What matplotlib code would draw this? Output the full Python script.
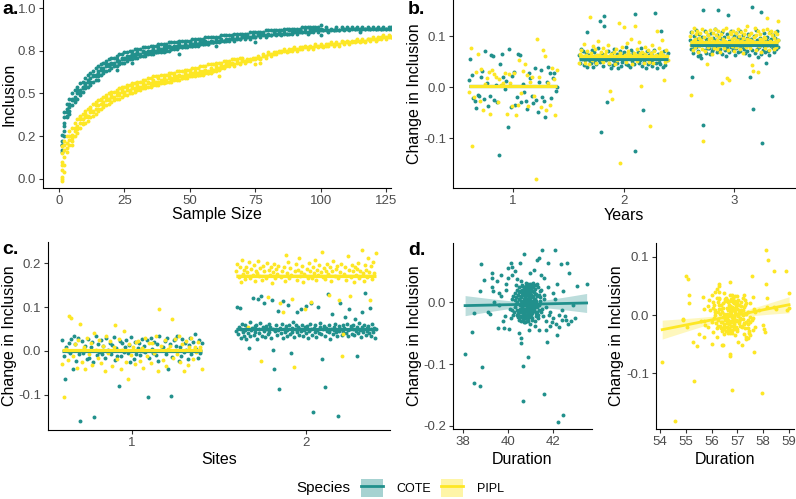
import numpy as np
import matplotlib.pyplot as plt
from matplotlib.lines import Line2D
from matplotlib.patches import Patch

plt.rcParams['font.family'] = ['Liberation Sans', 'DejaVu Sans']

COTE = '#21908C'
PIPL = '#FDE725'

# ---------------- a. Inclusion vs sample size (hundredths) ----------------
cote_a_1 = [22, 36, 41, 44, 46, 48, 50, 52, 54, 56, 57, 59, 60, 61, 63, 64, 65, 66, 67, 67,
            68, 69, 69, 70, 71, 71, 72, 72, 73, 73, 73, 74, 74, 74, 75, 75, 75, 76, 76, 76,
            77, 77, 77, 77, 78, 78, 78, 78, 78, 79, 79, 79, 79, 79, 80, 80, 80, 80, 80, 81,
            81, 81, 81, 81, 82, 82, 82, 82, 82, 83, 83, 83, 83, 83, 83, 84, 84, 84, 84, 84,
            84, 85, 85, 85, 85, 85, 85, 85, 86, 86, 86, 86, 86, 86, 86, 86, 87, 87, 87, 87,
            87, 87, 87, 87, 87, 87, 87, 88, 88, 88, 88, 88, 88, 88, 88, 88, 88, 88, 88, 88,
            88, 88, 88, 88, 88, 88, 88]
cote_a_2 = [17, 31, 39, 42, 47, 46, 52, 50, 53, 55, 58, 57, 61, 60, 62, 65, 64, 67, 66, 68,
            67, 70, 68, 71, 70, 72, 71, 73, 72, 74, 72, 75, 73, 75, 74, 76, 74, 77, 75, 77,
            76, 78, 76, 78, 77, 79, 77, 79, 78, 80, 78, 80, 79, 80, 79, 81, 79, 81, 80, 82,
            80, 82, 81, 82, 81, 83, 81, 83, 82, 84, 82, 84, 82, 84, 83, 85, 83, 85, 83, 85,
            84, 86, 84, 86, 84, 86, 85, 87, 85, 87, 85, 87, 86, 88, 85, 88, 86, 88, 86, 88,
            87, 89, 86, 88, 87, 89, 87, 89, 87, 89, 87, 89, 88, 89, 87, 89, 88, 89, 88, 89,
            88, 89, 88, 89, 88, 89, 89]
cote_a_3 = [20, 33, 37, 40, 43, 45, 47, 49, 51, 53, 54, 56, 57, 58, 60, 61, 62, 63, 64, 65,
            66, 66, 67, 68, 68, 69, 70, 70, 71, 71, 72, 72, 72, 73, 73, 73, 74, 74, 74, 75,
            75, 75, 76, 76, 76, 77, 77, 77, 77, 78, 78, 78, 78, 79, 79, 79, 79, 80, 80, 80]
cote_a_4 = [26, 39, 44, 47, 50, 52, 54, 56, 57, 59, 61, 62, 63, 65, 66, 67, 68, 69, 70, 71,
            71, 72, 73, 73, 74, 74, 75, 75, 76, 76, 76, 77, 77, 77, 78, 78, 78, 79, 79, 79,
            79, 80, 80, 80, 80, 81, 81, 81, 81, 81, 82, 82, 82, 82, 82, 83, 83, 83, 83, 83,
            83, 84, 84, 84, 84, 84, 85, 85, 85, 85, 85, 85, 86, 86, 86, 86, 86, 86, 87, 87,
            87, 87, 87, 87, 87, 88, 88, 88, 88, 88, 88, 88, 89, 89, 89, 89, 89, 89, 89, 90]
cote_a_extra_n = [1, 1, 2, 2, 3, 4, 12, 15, 22, 28, 40, 46, 60, 75, 100, 115]
cote_a_extra_y = [16, 20, 25, 28, 36, 38, 55, 58, 64, 68, 74, 73, 78, 80, 84, 86]

pipl_a_1 = [15, 17, 21, 23, 26, 28, 31, 33, 35, 36, 37, 39, 40, 41, 43, 44, 45, 46, 47, 48,
            48, 49, 50, 51, 51, 52, 52, 53, 53, 54, 54, 55, 55, 56, 56, 57, 57, 57, 58, 58,
            58, 59, 59, 59, 60, 60, 60, 61, 61, 61, 62, 62, 62, 62, 63, 63, 63, 64, 64, 65,
            65, 65, 66, 66, 67, 67, 67, 68, 68, 69, 69, 69, 70, 70, 71, 71, 71, 72, 72, 73,
            73, 73, 74, 74, 75, 75, 75, 75, 76, 76, 76, 76, 77, 77, 77, 77, 77, 78, 78, 78,
            78, 78, 79, 79, 79, 79, 79, 80, 80, 80, 80, 80, 81, 81, 81, 81, 81, 82, 82, 82,
            82, 82, 83, 83, 83, 83, 83]
pipl_a_2 = [10, 20, 18, 25, 24, 30, 29, 35, 33, 38, 36, 41, 39, 43, 41, 46, 44, 48, 46, 49,
            47, 51, 49, 52, 50, 54, 51, 55, 52, 55, 53, 56, 54, 57, 55, 58, 56, 59, 57, 59,
            57, 60, 58, 61, 59, 61, 59, 62, 60, 62, 61, 63, 61, 63, 62, 64, 62, 65, 63, 66,
            64, 66, 65, 67, 66, 68, 66, 69, 67, 70, 68, 70, 69, 71, 70, 72, 70, 73, 71, 74,
            72, 74, 73, 75, 74, 76, 74, 76, 75, 77, 75, 77, 76, 78, 76, 78, 76, 79, 77, 79,
            77, 79, 78, 80, 78, 80, 78, 81, 79, 81, 79, 81, 80, 82, 80, 82, 80, 82, 81, 83,
            81, 83, 82, 84, 82, 84, 83]
pipl_a_3 = [5, 13, 16, 20, 22, 25, 27, 30, 32, 33, 34, 36, 37, 38, 40, 41, 42, 43, 44, 45,
            46, 47, 47, 48, 49, 49, 50, 50, 51, 52, 52, 53, 53, 54, 54, 55, 55, 55, 56, 56,
            57, 57, 57, 58, 58, 58, 59, 59, 59, 60, 60, 60, 61, 61, 61, 62, 62, 62, 63, 63]
pipl_a_4 = [19, 22, 25, 28, 30, 33, 35, 37, 38, 40, 41, 42, 44, 45, 46, 47, 48, 49, 50, 51,
            51, 52, 53, 54, 54, 55, 55, 56, 56, 57, 57, 58, 58, 59, 59, 60, 60, 60, 61, 61,
            61, 62, 62, 62, 63, 63, 63, 64, 64, 64, 65, 65, 65, 66, 66, 66, 67, 67, 67, 68,
            68, 68, 69, 69, 69, 70, 70, 70, 71, 71]
pipl_a_extra_n = [1, 1, 1, 1, 2, 2, 5, 8, 10, 61, 75, 77]
pipl_a_extra_y = [0, 1, 8, -1, 8, 4, 20, 36, 38, 60, 67, 68]

# ---------------- b. Change in inclusion by years (thousandths) ----------------
cote_y1 = [13, 54, 24, -22, -27, -41, -15, -18, 20, 32, -23, 71, 8, -37, -17, 63, 60, -25, 3, -30,
           -133, 45, 64, 20, -4, 12, -79, 74, -40, 22, 30, -35, -20, 65, 62, -29, 5, -10, -27, -43,
           28, 17, -18, -32, 38, -25, -49, 10, 33, -20, -28, -58, 9, 40, 28, -22, 18, 27, -7, 0]
pipl_y1 = [-10, 76, -115, -20, 30, 65, -28, 35, -45, 5, 18, 30, -52, 33, 25, 20, -30, 15, 3, 8,
           28, -53, 25, 8, -38, 27, -55, -35, 52, -12, 32, 45, 23, -37, 10, 20, -18, -180, 94, 20,
           -40, 73, 60, -45, 8, -35, 38, 15, -55, 33]
cote_y2 = [62, 48, 75, 55, 58, 70, 44, 52, 66, 40, 108, 55, 63, 51, 47, 72, 57, 39, 68, 50,
           45, 60, 56, 77, 53, 130, 49, -89, 64, 42, 120, 140, 58, 53, -29, 71, 46, 55, 61, 38,
           67, 52, 43, 74, 49, 59, 48, 65, 37, 56, 70, 41, 62, 50, 54, 68, 54, 46, 79, 60,
           44, 57, 63, 39, 72, 51, 66, 45, 144, -126, 58, 55, 69, 47, 60, 53, 76, 42, -45, 64,
           49, 55, 38, 71, 58, 45, 62, 50, 67, 52, 41, 60, 73, 146, 48, 56, 37, 65, 50, 59,
           46, 110, 63, 40, 70, 54, 44, 61, 52, 66]
pipl_y2 = [48, 65, 72, 60, 55, 85, 48, 62, 55, 70, 58, 45, 138, 66, 52, 80, 58, 60, 74, 47,
           63, 90, 62, 57, 69, 53, 77, 50, 61, 64, 71, 55, 82, 48, -7, 64, 59, -24, 58, 68,
           46, 75, 53, 60, 125, -149, 66, 61, 79, 56, 118, 62, 49, 86, 67, 70, 54, 63, 95, 45,
           58, 67, 120, 63, 74, 51, 61, 88, 66, 2, 69, 57, 48, 78, 64, 60, 55, 72, 50, -76,
           66, 83, 47, 59, 70, 58, 62, 110, 54, 76, 65, 68, 92, 56, 63, 13, 49, 73, 60, 52]
cote_y3 = [92, 75, 108, 19, 85, 66, 100, 78, 88, 112, 79, 95, 60, 71, 104, 83, 62, 90, 57, 98,
           151, -75, 86, 73, 110, 67, 94, 80, 77, 102, 76, 89, 64, 106, 82, 70, 97, 75, 85, 113,
           78, 93, 68, 101, 151, 84, 80, 96, 74, 88, 107, 65, 91, 80, 99, 72, 87, 61, 103, 77,
           141, 90, 69, 84, 110, 78, 95, 81, 73, 100, 86, 63, 105, 76, 92, 68, 98, 83, 71, 109,
           79, 94, 80, 88, 102, 74, 91, 66, 85, 97, 70, 87, 104, 62, 19, 82, 95, 72, 156, -43,
           89, 100, 67, 84, 111, 75, 93, 59, 86, 78, 96, 64, 147, -110, 88, 73, 105, 81, 69, 92,
           47, 83, 99, 71, 90, 63, 107, 80, 94, -18, 76, 101, 85, 68, 97, 74, 88, 110, 79, 93]
pipl_y3 = [100, 83, -16, 107, 90, 73, 115, 95, 79, 103, 87, 110, 68, 96, 81, 105, 92, 75, 113, -105,
           85, 99, 71, 108, 89, 45, 102, 78, 94, 111, 82, 97, 65, 106, 91, 76, 114, 88, 101, 74,
           93, 109, 80, 98, 69, 104, 86, 7, 95, 112, 77, 90, 116, 84, 18, 99, 72, 13, 107, 87,
           103, 81, 94, 110, 70, 96, 89, 105, 78, 92, 113, 85, 100, 74, 108, 91, 82, 97, 67, 104,
           88, 111, 79, 95, 120, 83, 102, 76, 93, 106, 43, 90, 32, 98, 84, 115, 72, 101, 87, 30,
           109, 80, 94, 103, 69, 92, 112, 85, 99, 77, 96, 88, 114, 136, 82, 105, 73, 91, 110, 83,
           101, 86, 97, 75, 108, 90, 79, 104, 93, 130]

# ---------------- c. Change in inclusion by sites (thousandths) ----------------
cote_s1 = [25, -12, -65, 10, 0, 18, -5, 28, -40, 33, 15, -22, 30, -8, -160, 22, -5, 5, 12, -18,
           27, -15, 8, 20, -25, -150, 33, -10, 16, -3, 24, -8, 11, -15, 29, 0, 2, 19, -7, 14,
           32, -20, 6, -12, -80, 23, -12, 17, -3, 9, 26, -5, 13, -25, 31, 2, -18, 21, -8, 7,
           18, -9, 28, 0, 12, -2, 24, -105, -15, 30, 4, -5, 20, -10, 15, -22, 34, 1, 3, 10,
           22, -6, 29, -40, 16, -103, -14, 25, 27, 11, 33, -24, 8, -12, 27, -2, 19, 3, -19, 14,
           30, -8, 21, 2, 38, 5, -16, 26, -4, 17]
pipl_s1 = [-30, -105, 5, -20, 80, 75, -12, 15, -38, 25, 62, -25, 8, -40, 30, -8, 18, -33, 40, 2,
           -15, 25, -28, 12, -45, 35, -5, 22, -35, 10, 60, -18, 28, -42, 3, 45, -25, -65, 15, -10,
           8, -30, 20, 22, -22, 7, -38, 30, -12, 18, -28, 18, -5, 33, -45, 95, 12, -20, 25, -35,
           5, 12, 72, -15, 28, -8, 35, -25, 15, -45, 22, -32, 10, 30, -18, 10, -3, 20, 8, -40]
cote_s2 = [45, 100, 38, 55, 97, 30, 50, 62, 42, 35, 58, 48, 27, 53, 40, 6, 65, 33, 47, 52,
           120, 37, 56, 44, 60, 28, 118, 50, 41, 63, 125, 35, 54, 46, 110, 32, 57, 49, 39, 61,
           43, 55, 30, 115, 51, 2, -41, 45, 59, 36, 48, 92, -86, 53, 41, 62, 29, 113, 50, 44,
           57, 34, 47, 105, 60, 38, -5, 52, 43, 66, 31, 49, 58, 88, 42, 55, 37, 51, 95, 46,
           60, 33, 48, 54, 103, 40, 56, 30, 45, 62, 50, 108, 36, -138, 53, 44, 58, 32, 47, 99,
           41, 55, 63, 39, -18, 49, 57, -81, 35, 52, 46, 130, 59, 43, 28, 51, 85, 38, 54, 48,
           61, 42, 34, -147, 56, 45, 110, 50, 37, 58, 44, 53, 78, 40, 62, 47, 33, 95, 51, 57,
           39, 49, 58, 36, 72, 45, -11, 54, 41, 63, 48, 32, 55, 88, 43, 60, 131, 37, 52, 46,
           57, 41, 97, 50, 35, 62, 44, 53, 30, 49]
pipl_s2 = [182, 197, 169, 190, 157, 207, 175, 185, 164, 192, 179, 55, 202, 167, 187, 172, 195, 159, 183, 177,
           205, 170, 189, -22, 162, 193, 181, 167, 200, 123, 185, 174, 192, 155, 180, 199, 165, 187, 176, 194,
           110, 169, 183, 89, 190, 159, 219, 177, 202, 167, 188, 173, 118, -36, 181, 197, 162, 185, 212, 170,
           179, 193, 157, 175, 95, 187, 167, 200, 182, 112, 165, 191, 178, 207, 161, 185, 173, 196, 180, 225,
           169, 188, 164, 183, 199, 175, 127, 190, 159, 181, 204, 171, 186, 193, 165, 116, 179, 197, -11, 39,
           176, 190, 162, 217, 184, 124, 168, 195, 181, 157, 192, 173, 187, 201, 166, 182, 229, 177, 160, 196,
           185, 169, 212, 180, 116, 193, 164, 202, 178, 222]

# ---------------- d. Change in inclusion vs duration ----------------
cote_dur = [40.85, 40.7, 41.0, 40.6, 41.1, 40.9, 40.5, 41.25, 40.75, 40.95,
            40.4, 41.3, 40.8, 41.05, 40.65, 40.9, 41.4, 40.3, 40.8, 41.15,
            40.55, 41.0, 40.7, 41.2, 40.45, 40.95, 41.35, 40.6, 41.1, 40.85,
            40.25, 40.75, 41.05, 40.9, 41.45, 40.5, 40.8, 41.25, 40.65, 41.0,
            40.35, 40.95, 41.15, 40.7, 41.55, 40.6, 40.85, 41.3, 40.4, 41.05,
            40.75, 40.9, 41.2, 40.55, 41.6, 40.2, 40.85, 41.1, 40.65, 41.0,
            40.8, 40.95, 41.35, 40.45, 41.15, 40.7, 41.5, 40.3, 40.9, 41.05,
            40.6, 40.85, 41.25, 40.75, 41.4, 40.5, 40.95, 41.1, 40.65, 41.7,
            40.15, 40.8, 41.0, 40.7, 41.2, 40.9, 41.45, 40.35, 40.85, 41.05,
            40.55, 40.95, 41.3, 40.75, 41.15,
            40.82, 40.93, 40.68, 41.02, 40.58, 41.12, 40.77, 40.97, 40.83, 41.07,
            40.48, 41.22, 40.63, 41.32, 40.43, 41.17, 40.53, 40.88, 41.03, 40.72,
            40.78, 41.27, 40.62, 41.37, 40.38, 40.92, 41.08, 40.73, 40.87, 41.13,
            40.28, 41.42, 40.67, 40.93, 41.18, 40.52, 40.83, 41.02, 40.68, 41.23,
            40.33, 41.52, 40.57, 40.87, 41.28, 40.62, 40.98, 41.07, 40.77, 41.33,
            40.47, 41.12, 40.78, 40.92, 40.63, 41.47, 40.23, 41.03, 40.72, 41.18,
            40.87, 40.53, 41.13, 40.97, 40.58, 41.38, 40.42, 40.82, 41.08, 40.73,
            40.18, 41.62, 40.48, 41.27, 40.88, 40.67, 41.12, 40.83, 41.02, 40.68,
            38.09, 38.39, 38.5, 38.76, 38.86, 38.8, 38.49, 40.68, 40.66, 40.92,
            41.63, 42.23, 42.45, 42.21, 41.76, 43.52, 43.1, 42.9, 43.0, 42.82,
            42.48, 42.1, 41.54, 40.72, 42.73, 42.38, 42.63, 41.78, 41.41, 41.29,
            40.14, 40.18, 40.56, 40.99, 39.28, 38.94, 38.76, 39.3, 39.35, 39.1,
            39.2, 39.55, 39.85, 40.05, 39.88, 40.5, 40.58, 40.6, 40.96, 41.2,
            41.4, 41.9, 41.98, 42.3, 42.6,
            39.7, 39.9, 40.0, 40.2, 40.4, 41.6, 41.8, 42.0, 41.9, 42.1,
            39.6, 39.8, 41.7, 41.5, 40.1, 42.2, 42.4, 39.4, 40.3, 41.15,
            42.0, 42.15, 42.4, 42.55, 42.7, 41.85, 42.3, 41.7,
            39.5, 39.7, 39.9, 40.0, 39.3, 39.6]
cote_dchg = [0, 12, -8, -15, 18, 25, 5, -3, -25, 8,
             20, 10, -10, -20, 28, -30, -12, -8, 15, 4,
             -5, 30, -18, 22, 12, -14, 25, 35, -28, 5,
             -20, 20, 12, -4, 2, -28, 32, -18, -2, -35,
             28, 18, -10, 2, -22, -30, -20, 30, -12, 2,
             8, 14, -6, 18, 12, 5, -8, 10, 15, 5,
             -3, -22, -25, -18, 28, -10, 20, 15, 0, -12,
             8, 22, 14, -32, -5, 25, 3, -18, -22, -8,
             -25, 6, 15, 24, -30, -16, 8, -2, 12, 24,
             -10, -6, -15, -5, 0,
             4, -6, -12, 10, 2, -2, 16, -18, 26, -26,
             -14, 6, 20, -8, 0, 16, -22, 30, -4, 6,
             -15, -22, -8, 12, 8, 20, -8, -20, -30, 24,
             -15, 18, -28, 8, -14, 16, 22, -16, -4, 14,
             4, -10, 10, -12, 2, 26, -10, 30, 0, -20,
             -24, -10, -22, -26, -6, -15, 10, 22, -32, -12,
             16, -16, 8, 26, -24, -2, -20, 12, 18, -26,
             -12, 5, 6, 28, -20, -18, 32, -2, -24, 18,
             -83, -48, -131, -136, -105, 62, -18, -159, -103, -88,
             -149, -193, -183, -53, -65, 29, 26, -5, -25, -30,
             19, 84, 84, 79, 48, 62, 63, 64, 71, 69,
             63, 57, 63, 48, 48, 36, 19, 25, 19, -16,
             -19, -41, -41, -43, -22, -49, -58, -66, -44, -39,
             -45, -39, -32, -21, -29,
             10, 30, 40, 45, 38, 40, 25, 15, -15, 5,
             -5, -30, -30, 45, -10, 30, -12, 0, 50, 52,
             -25, -35, -28, -22, -35, -20, -40, -45,
             35, 45, 20, 55, 40, 15]

pipl_dur = [56.75, 56.6, 56.9, 56.5, 57.0, 56.8, 56.4, 57.1, 56.7, 56.85,
            56.3, 57.2, 56.65, 56.95, 56.55, 56.8, 57.25, 56.25, 56.7, 57.05,
            56.45, 56.9, 56.6, 57.15, 56.35, 56.85, 57.3, 56.5, 57.0, 56.75,
            56.2, 56.65, 56.95, 56.8, 57.35, 56.4, 56.7, 57.1, 56.55, 56.9,
            56.3, 56.85, 57.05, 56.6, 57.4, 56.5, 56.75, 57.2, 56.35, 56.95,
            56.7, 56.8, 57.1, 56.45, 56.65, 56.9, 56.6, 57.0, 56.75, 56.85,
            56.72, 56.83, 56.58, 56.92, 56.48, 57.02, 56.67, 56.87, 56.77, 56.97,
            56.42, 57.12, 56.53, 57.22, 56.33, 57.07, 56.47, 56.78, 56.88, 56.62,
            56.68, 57.17, 56.52, 57.27, 56.28, 56.83, 56.93, 56.63, 56.73, 57.03,
            56.18, 57.32, 56.57, 56.82, 57.08, 56.38, 56.72, 56.88, 56.58, 57.12,
            56.23, 57.42, 56.43, 56.77, 57.13, 56.52, 56.87, 56.97, 56.67, 57.18,
            56.37, 57.02, 56.68, 56.78, 56.57, 57.33, 56.13, 56.92, 56.62, 57.08,
            56.73, 56.47, 57.07, 56.83, 56.48, 57.23, 56.32, 56.72, 56.93, 56.67,
            55.9, 56.0, 56.1, 56.2, 56.05, 56.15, 55.95, 56.25, 56.1, 56.2,
            55.85, 56.3, 56.0, 56.15, 56.25,
            57.3, 57.45, 57.5, 57.35, 57.6, 57.4, 57.55, 57.7, 57.25, 57.65,
            57.5, 57.4, 57.3, 57.6, 57.45,
            54.09, 54.6, 55.0, 55.1, 55.13, 55.13, 54.9, 54.88, 55.04, 55.27,
            55.42, 55.32, 55.65, 55.72, 55.7, 55.75, 55.7, 56.0, 56.29, 56.3,
            56.28, 56.2, 56.4, 56.45, 56.71, 56.7, 56.72, 56.8, 57.01, 57.16,
            57.32, 57.4, 57.55, 57.66, 57.5, 57.7, 58.0, 58.02, 58.05, 57.94,
            58.1, 58.2, 58.1, 58.14, 58.42, 58.87, 59.0, 58.9, 59.0, 58.4,
            58.5, 58.14, 57.85, 57.6, 57.27, 57.48, 55.58, 55.5, 55.85, 56.05,
            56.13, 56.05, 57.24]
pipl_dchg = [0, 12, -10, -18, 20, 28, 5, -5, -25, 10,
             18, 8, -12, -20, 30, -30, -15, -8, 15, 3,
             -3, 32, -20, 22, 10, -14, 25, 38, -28, 6,
             -22, 22, 13, -4, 2, -28, 35, -18, -2, -35,
             30, 20, -10, 2, -22, -32, -18, 30, -12, 2,
             8, 14, -6, 20, -8, 5, 25, 10, -10, -24,
             4, -6, -14, 12, 2, -2, 18, -20, 28, -24,
             -12, 8, 24, -6, 2, 18, -20, 34, -4, 8,
             -16, -20, -8, 14, 10, 22, -8, -22, -30, 26,
             -14, 20, -28, 8, -14, 18, 24, -16, -4, 16,
             6, -8, 12, -12, 4, 28, -10, 32, 0, -18,
             -22, -10, -22, -26, -6, -12, 8, 24, -30, -10,
             16, -16, 8, 30, -24, 0, -18, 12, 18, -26,
             25, 35, 18, 30, 12, 40, 8, 22, -5, 45,
             15, 28, -12, 5, -18,
             -22, -30, -12, -38, -25, 5, -8, -20, -32, 10,
             -35, -15, 18, -5, -28,
             -81, -181, 67, 62, 34, 20, -6, -8, -20, -46,
             -54, -114, 31, 11, -11, -17, -37, -49, 54, 49,
             39, -37, -51, -51, 57, -70, -67, -129, -46, -51,
             -41, -40, 67, -63, -3, 6, -17, -24, -29, -133,
             111, 94, 54, 29, 76, 76, 37, 9, 12, 14,
             11, 14, 9, 31, 34, 20, -11, -33, -20, -29,
             0, 23, -14]


# ---------------- helpers ----------------
W, H = 796, 499


def pos(l, t, r, b):
    return [l / W, 1 - b / H, (r - l) / W, (b - t) / H]


def style(ax, xlabel, ylabel, xlab_xy, ylab_xy):
    for s in ['top', 'right']:
        ax.spines[s].set_visible(False)
    for s in ['left', 'bottom']:
        ax.spines[s].set_linewidth(0.8)
    ax.tick_params(length=3, width=0.8, color='#333333', labelcolor='#4d4d4d',
                   labelsize=9.5, pad=2)
    fig.text(xlab_xy[0] / W, 1 - xlab_xy[1] / H, xlabel, fontsize=11.5,
             ha='center', va='center')
    fig.text(ylab_xy[0] / W, 1 - ylab_xy[1] / H, ylabel, fontsize=11.5,
             ha='center', va='center', rotation=90)


def strip(ax, center, vals, color):
    x = center + np.linspace(-0.4, 0.4, len(vals))
    ax.scatter(x, vals, s=8, color=color, lw=0, zorder=2)


def mean_line(ax, center, vals, color, band=True):
    m = vals.mean()
    se = vals.std(ddof=1) / np.sqrt(len(vals))
    xs = [center - 0.4, center + 0.4]
    if band:
        ax.fill_between(xs, m - se, m + se, color=color, alpha=0.3, lw=0, zorder=3)
    ax.plot(xs, [m, m], color=color, lw=2.3, zorder=4, solid_capstyle='butt')


def lm_fit(ax, x, y, color):
    b, a = np.polyfit(x, y, 1)
    xs = np.linspace(x.min(), x.max(), 80)
    yhat = a + b * xs
    resid = y - (a + b * x)
    s = np.sqrt((resid ** 2).sum() / (len(x) - 2))
    se = s * np.sqrt(1 / len(x) + (xs - x.mean()) ** 2 / ((x - x.mean()) ** 2).sum())
    ax.fill_between(xs, yhat - 1.97 * se, yhat + 1.97 * se, color=color, alpha=0.3, lw=0, zorder=3)
    ax.plot(xs, yhat, color=color, lw=2, zorder=4)


fig = plt.figure(figsize=(W / 100, H / 100), dpi=100)

# a.
ax = fig.add_axes(pos(43, 0, 391, 188))
for yv in [cote_a_1, cote_a_2, cote_a_3, cote_a_4]:
    ax.scatter(np.arange(1, len(yv) + 1), np.array(yv) / 100, s=8, color=COTE, lw=0)
ax.scatter(cote_a_extra_n, np.array(cote_a_extra_y) / 100, s=8, color=COTE, lw=0)
for yv in [pipl_a_1, pipl_a_2, pipl_a_3, pipl_a_4]:
    ax.scatter(np.arange(1, len(yv) + 1), np.array(yv) / 100, s=8, color=PIPL, lw=0)
ax.scatter(pipl_a_extra_n, np.array(pipl_a_extra_y) / 100, s=8, color=PIPL, lw=0)
ax.set_xlim(-6.1, 126.9)
ax.set_ylim(-0.053, 1.047)
ax.set_xticks([0, 25, 50, 75, 100, 125])
ax.set_yticks([0, 0.25, 0.5, 0.75, 1.0])
ax.set_yticklabels(['0.0', '0.2', '0.5', '0.8', '1.0'])
style(ax, 'Sample Size', 'Inclusion', (217, 215), (9, 94))

# b.
ax = fig.add_axes(pos(453, 0, 796, 188))
groups_b = [(1, cote_y1, pipl_y1), (2, cote_y2, pipl_y2), (3, cote_y3, pipl_y3)]
for c, cv, pv in groups_b:
    strip(ax, c, np.array(cv) / 1000, COTE)
for c, cv, pv in groups_b:
    strip(ax, c, np.array(pv) / 1000, PIPL)
for c, cv, pv in groups_b:
    mean_line(ax, c, np.array(cv) / 1000, COTE, band=c > 1)
    mean_line(ax, c, np.array(pv) / 1000, PIPL, band=c > 1)
ax.set_xlim(0.457, 3.56)
ax.set_ylim(-0.198, 0.1706)
ax.set_xticks([1, 2, 3])
ax.set_yticks([-0.1, 0.0, 0.1])
ax.set_yticklabels(['-0.1', '0.0', '0.1'])
style(ax, 'Years', 'Change in Inclusion', (624, 216), (414, 94))

# c.
ax = fig.add_axes(pos(48, 242, 390, 430))
groups_c = [(1, cote_s1, pipl_s1), (2, cote_s2, pipl_s2)]
for c, cv, pv in groups_c:
    strip(ax, c, np.array(cv) / 1000, COTE)
for c, cv, pv in groups_c:
    strip(ax, c, np.array(pv) / 1000, PIPL)
for c, cv, pv in groups_c:
    mean_line(ax, c, np.array(cv) / 1000, COTE, band=c > 1)
    mean_line(ax, c, np.array(pv) / 1000, PIPL, band=c > 1)
ax.set_xlim(0.517, 2.483)
ax.set_ylim(-0.18, 0.248)
ax.set_xticks([1, 2])
ax.set_yticks([-0.1, 0.0, 0.1, 0.2])
ax.set_yticklabels(['-0.1', '0.0', '0.1', '0.2'])
style(ax, 'Sites', 'Change in Inclusion', (219, 460), (10, 336))

# d. COTE
ax = fig.add_axes(pos(453, 243, 592, 429))
xd, yd = np.array(cote_dur), np.array(cote_dchg) / 1000
ax.scatter(xd, yd, s=8, color=COTE, lw=0, zorder=2)
lm_fit(ax, xd, yd, COTE)
ax.set_xlim(37.55, 43.76)
ax.set_ylim(-0.205, 0.096)
ax.set_xticks([38, 40, 42])
ax.set_yticks([-0.2, -0.1, 0.0])
ax.set_yticklabels(['-0.2', '-0.1', '0.0'])
style(ax, 'Duration', 'Change in Inclusion', (522, 460), (414, 336))

# d. PIPL
ax = fig.add_axes(pos(656, 243, 794, 429))
xd, yd = np.array(pipl_dur), np.array(pipl_dchg) / 1000
ax.scatter(xd, yd, s=8, color=PIPL, lw=0, zorder=2)
lm_fit(ax, xd, yd, PIPL)
ax.set_xlim(53.85, 59.19)
ax.set_ylim(-0.1955, 0.1235)
ax.set_xticks([54, 55, 56, 57, 58, 59])
ax.set_yticks([-0.1, 0.0, 0.1])
ax.set_yticklabels(['-0.1', '0.0', '0.1'])
style(ax, 'Duration', 'Change in Inclusion', (725, 460), (617, 336))

# panel tags
for x, y, t in [(2, 10, 'a.'), (408, 10, 'b.'), (2, 250, 'c.'), (408, 251, 'd.')]:
    fig.text(x / W, 1 - y / H, t, fontsize=14, fontweight='bold', va='center', ha='left')

# legend
handles = [(Patch(facecolor=COTE, alpha=0.4, lw=0), Line2D([], [], color=COTE, lw=2)),
           (Patch(facecolor=PIPL, alpha=0.4, lw=0), Line2D([], [], color=PIPL, lw=2))]
fig.text(296 / W, 1 - 488 / H, 'Species', fontsize=11, va='center', ha='left')
fig.legend(handles, ['COTE', 'PIPL'], loc='center left', bbox_to_anchor=(361 / W, 1 - 488 / H),
           ncol=2, frameon=False, fontsize=9, handlelength=1.76, handleheight=1.76,
           handletextpad=1.1, columnspacing=0.8, borderpad=0, borderaxespad=0)

fig.savefig('out.png', dpi=100)
